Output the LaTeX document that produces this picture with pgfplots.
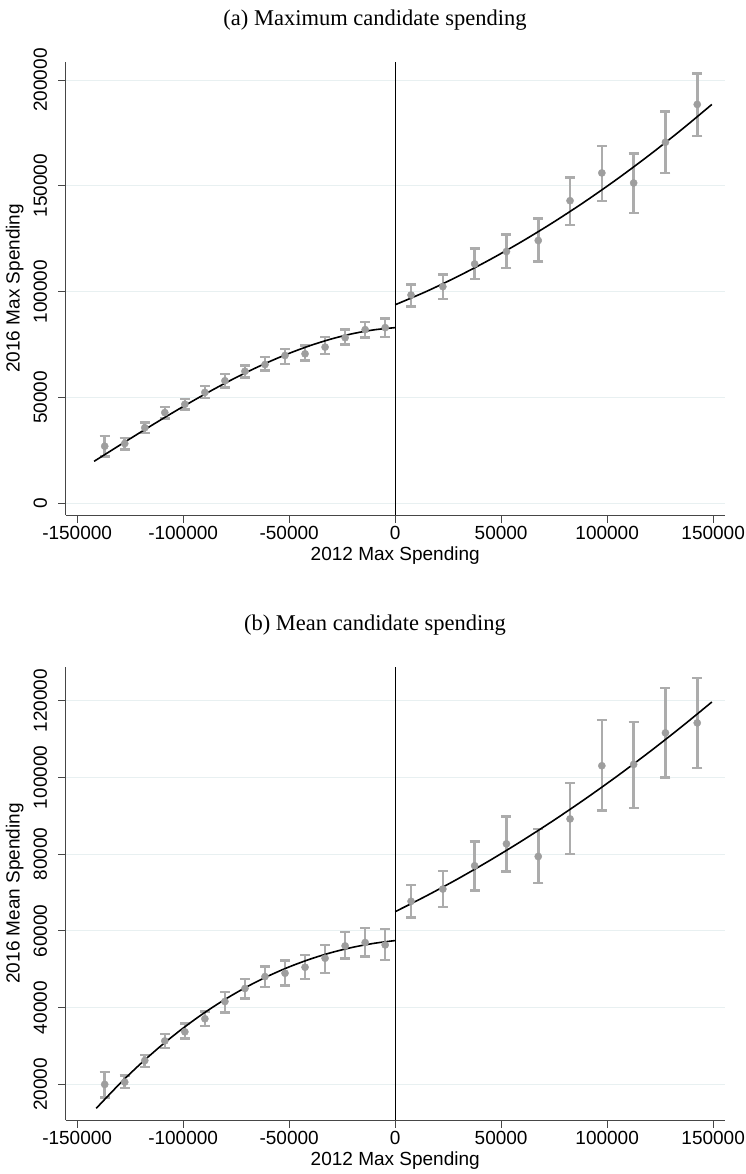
\documentclass[border=0pt]{standalone}
\usepackage{fontspec}
\setmainfont{Liberation Serif}
\newfontfamily\arial{Liberation Sans}
\usepackage{pgfplots}
\usepackage{pgfplotstable}
\pgfplotsset{compat=1.18}
\definecolor{gridc}{RGB}{232,240,241}
\definecolor{ptc}{RGB}{158,158,158}
\definecolor{barc}{RGB}{172,172,172}
\definecolor{axc}{RGB}{70,70,70}

\pgfplotstableread{
x y ep em
-137000 26980 4720 4780
-127550 28250 2700 2850
-118100 35700 2400 2400
-108650 42860 2700 2700
-99200 46800 2400 2400
-89750 52400 2900 2700
-80300 57900 3200 3140
-70850 62380 2700 2860
-61400 65560 3490 2860
-51950 69840 3160 3970
-42500 70630 3970 3170
-33050 73800 4770 3170
-23600 78250 3810 3170
-14150 82060 3640 3810
-4700 83000 4300 4430
}\TL
\pgfplotstableread{
x y ep em
7500 98420 4880 5370
22500 102370 5690 5850
37500 113100 7300 7250
52500 118960 8040 7760
67500 124170 10430 9970
82500 142970 11030 11370
97500 156090 12630 13120
112500 151350 13900 14220
127500 170620 14530 14530
142500 188470 14690 15010
}\TR
\pgfplotstableread{
x y
-142000 19840
-130000 27401
-120000 33643
-110000 39767
-100000 45718
-90000 51438
-80000 56867
-70000 61950
-60000 66629
-50000 70847
-40000 74546
-30000 77668
-20000 80157
-10000 81953
0 83000
}\FTL
\pgfplotstableread{
x y
0 93800
15000 100218
30000 107421
45000 115289
60000 123821
75000 133020
90000 142882
105000 153410
120000 164601
135000 176459
149400 188468
}\FTR
\pgfplotstableread{
x y ep em
-137000 20000 3200 3460
-127550 20600 1700 1600
-118100 26210 1450 1700
-108650 31330 1870 1830
-99200 33700 2200 1700
-89750 37100 1880 1900
-80300 41600 2400 2830
-70850 45000 2400 2630
-61400 48100 2610 2770
-51950 48970 3300 3210
-42500 50530 3130 3120
-33050 52880 3470 3910
-23600 56090 3650 3300
-14150 56960 3820 3650
-4700 56350 4080 3910
}\BL
\pgfplotstableread{
x y ep em
7500 67700 4300 4200
22500 70900 4770 4600
37500 76970 6320 6410
52500 82680 7100 7180
67500 79390 7100 6920
82500 89180 9430 9180
97500 103030 11860 11690
112500 103380 11080 11430
127500 111600 11690 11600
142500 114200 11690 11690
}\BR
\pgfplotstableread{
x y
-141000 13760
-130000 20119
-120000 25415
-110000 30263
-100000 34675
-90000 38662
-80000 42237
-70000 45414
-60000 48202
-50000 50614
-40000 52664
-30000 54363
-20000 55725
-10000 56759
0 57480
}\FBL
\pgfplotstableread{
x y
0 65000
15000 69204
30000 73694
45000 78471
60000 83533
75000 88883
90000 94519
105000 100441
120000 106650
135000 113145
149400 119650
}\FBR

\pgfplotsset{
 panel/.style={
  scale only axis, width=659.1pt, height=453.3pt,
  axis x line*=bottom, axis y line*=left,
  xmin=-155400, xmax=155500,
  scaled ticks=false,
  xtick={-150000,-100000,-50000,0,50000,100000,150000},
  xticklabels={-150000,-100000,-50000,0,50000,100000,150000},
  tick align=outside,
  major tick length=7.5pt,
  tick style={axc, line width=0.9pt},
  axis line style={axc, line width=1pt},
  ymajorgrids, grid style={gridc, line width=1pt},
  tick label style={font=\arial\fontsize{19}{19}\selectfont, text=black},
  yticklabel style={rotate=90, anchor=south, inner sep=0pt},
  yticklabel shift=11pt,
  xticklabel style={anchor=north, inner sep=0pt},
  xticklabel shift=4pt,
  label style={font=\arial\fontsize{19}{19}\selectfont},
  xlabel={2012 Max Spending},
  x label style={at={([yshift=-41pt]axis description cs:0.5,0)}, anchor=center},
  y label style={at={([xshift=-51pt]axis description cs:0,0.5)}, anchor=center},
 },
 pts/.style={only marks, mark=*, mark size=3.6pt, mark options={fill=ptc, draw=ptc}, color=barc,
   error bars/.cd, y dir=both, y explicit,
   error bar style={line width=2.6pt, barc},
   error mark options={rotate=90, mark size=5pt, line width=2.4pt, barc}},
 fit/.style={black, line width=1.6pt, smooth, no marks},
}

\begin{document}
\begin{tikzpicture}
\path[use as bounding box] (0,0) rectangle (746pt,-1174pt);
\node[font=\fontsize{22.5}{22.5}\selectfont] at (375pt,-20pt) {(a) Maximum candidate spending};
\node[font=\fontsize{22.5}{22.5}\selectfont] at (375pt,-625pt) {(b) Mean candidate spending};

\begin{axis}[panel, at={(65.7pt,-515pt)}, anchor=south west,
  ymin=-5530, ymax=208650,
  ytick={0,50000,100000,150000,200000},
  yticklabels={0,50000,100000,150000,200000},
  ylabel={2016 Max Spending}]
\addplot[black, line width=1.2pt] coordinates {(0,-5530) (0,208650)};
\addplot[pts] table[x=x, y=y, y error plus=ep, y error minus=em] {\TL};
\addplot[pts] table[x=x, y=y, y error plus=ep, y error minus=em] {\TR};
\addplot[fit] table[x=x, y=y] {\FTL};
\addplot[fit] table[x=x, y=y] {\FTR};
\end{axis}

\begin{axis}[panel, at={(65.7pt,-1120pt)}, anchor=south west,
  ymin=10720, ymax=128840,
  ytick={20000,40000,60000,80000,100000,120000},
  yticklabels={20000,40000,60000,80000,100000,120000},
  ylabel={2016 Mean Spending}]
\addplot[black, line width=1.2pt] coordinates {(0,10720) (0,128840)};
\addplot[pts] table[x=x, y=y, y error plus=ep, y error minus=em] {\BL};
\addplot[pts] table[x=x, y=y, y error plus=ep, y error minus=em] {\BR};
\addplot[fit] table[x=x, y=y] {\FBL};
\addplot[fit] table[x=x, y=y] {\FBR};
\end{axis}
\end{tikzpicture}
\end{document}
